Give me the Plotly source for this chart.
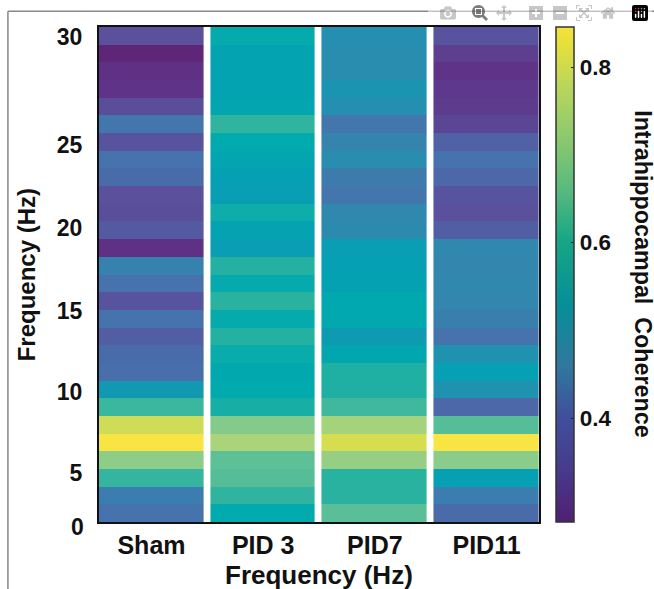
import plotly.graph_objects as go

groups = ["<b>Sham</b>", "<b>PID 3</b>", "<b>PID7</b>", "<b>PID11</b>"]

# coherence per frequency bin, listed from the top row to the bottom row
sham = [.37, .285, .31, .315, .365, .43, .375, .42, .41, .37, .365, .385, .31, .455,
        .42, .375, .42, .39, .41, .415, .505, .62, .80, .845, .72, .615, .445, .42]
pid3 = [.565, .53, .53, .53, .54, .61, .56, .54, .52, .515, .575, .53, .515, .60,
        .565, .605, .565, .60, .57, .555, .56, .585, .705, .755, .655, .645, .61, .56]
pid7 = [.485, .48, .48, .495, .485, .43, .46, .48, .44, .43, .47, .475, .515, .52,
        .525, .55, .555, .51, .545, .595, .595, .625, .75, .81, .73, .605, .605, .65]
pid11 = [.375, .335, .315, .325, .33, .35, .395, .42, .405, .375, .37, .39, .47, .465,
         .47, .465, .45, .42, .49, .52, .49, .405, .645, .845, .715, .52, .445, .41]

rows = list(range(28, 0, -1))
z = [list(r) for r in zip(sham, pid3, pid7, pid11)]

ytick_rows = [3.27, 7.85, 12.43, 17.13, 21.82, 27.93]
ytick_text = ["<b>5</b>", "<b>10</b>", "<b>15</b>", "<b>20</b>", "<b>25</b>", "<b>30</b>"]
cbar_ticks = [0.4, 0.6, 0.8]
cbar_text = ["<b>0.4</b>", "<b>0.6</b>", "<b>0.8</b>"]

ZMIN, ZMAX = 0.2815, 0.8456


def stops(pairs):
    return [[(v - ZMIN) / (ZMAX - ZMIN), c] for v, c in pairs]


cell_scale = stops([
    (ZMIN, "#5f2475"), (.315, "#5e3388"), (.37, "#5a509c"), (.42, "#4672ad"),
    (.47, "#3188ae"), (.52, "#05a0b3"), (.56, "#00aaad"), (.60, "#25b1a2"),
    (.65, "#5abf98"), (.72, "#8ecd88"), (.755, "#a9d47a"), (.81, "#d6de50"),
    (ZMAX, "#f9e544"),
])
bar_scale = stops([
    (ZMIN, "#4f1f73"), (.34, "#483a8c"), (.40, "#3f4f9c"), (.46, "#2f789e"),
    (.53, "#068f98"), (.60, "#15a585"), (.66, "#58ba7e"), (.72, "#8cc96e"),
    (.78, "#bcd65a"), (.82, "#e0df40"), (ZMAX, "#f6e23a"),
])

FONT = "Liberation Sans"
INK = "#111111"

fig = go.Figure()
fig.add_trace(go.Heatmap(
    z=z, x=groups, y=rows, zmin=ZMIN, zmax=ZMAX, xgap=7.5, colorscale=bar_scale,
    colorbar=dict(
        x=1.0386, xanchor="left", xref="paper", xpad=0, ypad=0,
        y=0.5, yanchor="middle", len=1.0,
        thickness=18, thicknessmode="pixels", outlinecolor="#333333", outlinewidth=1.5,
        tickvals=cbar_ticks, ticktext=cbar_text, ticks="inside",
        ticklen=3, tickcolor="#222222", tickfont=dict(family=FONT, size=22.5, color=INK),
    ),
))
fig.add_trace(go.Heatmap(
    z=z, x=groups, y=rows, zmin=ZMIN, zmax=ZMAX, xgap=7.5, colorscale=cell_scale,
    showscale=False,
))


def label(text, x, y, size, angle=0, xanchor="center"):
    return dict(text=text, xref="paper", yref="paper", x=x, y=y, xanchor=xanchor, yanchor="middle",
                showarrow=False, textangle=angle, font=dict(family=FONT, size=size, color=INK))


fig.update_layout(
    width=654, height=589, margin=dict(l=99, r=115, t=27, b=67, autoexpand=False),
    paper_bgcolor="white", plot_bgcolor="white",
    font=dict(family=FONT, color=INK),
    xaxis=dict(
        range=[-0.47, 3.47], showline=True, linewidth=2, linecolor=INK, mirror=True, automargin=False,
        ticks="", showgrid=False, zeroline=False, tickfont=dict(family=FONT, size=25, color=INK),
    ),
    yaxis=dict(
        range=[0.5, 28.5], showline=True, linewidth=2, linecolor=INK, mirror=True, automargin=False,
        tickvals=ytick_rows, ticktext=ytick_text, ticks="", ticklabelstandoff=10,
        showgrid=False, zeroline=False, tickfont=dict(family=FONT, size=23, color=INK),
    ),
    annotations=[
        label("<b>0</b>", -0.03, -0.01, 23, xanchor="right"),
        label("<b>Frequency (Hz)</b>", 0.5, -0.107, 26),
        label("<b>Frequency (Hz)</b>", -0.164, 0.5, 24, angle=-90),
        label("<b>Intrahippocampal\u00a0\u00a0Coherence</b>", 1.236, 0.501, 23.3, angle=90),
    ],
    shapes=[dict(type="line", xref="paper", yref="paper", x0=-0.207, x1=1.3, y0=1.032, y1=1.032,
                 line=dict(color="#888888", width=1.5)),
            dict(type="line", xref="paper", yref="paper", x0=-0.207, x1=-0.207, y0=1.032, y1=-0.14,
                 line=dict(color="#888888", width=1.5))],
)

fig.write_html(
    "out.html",
    post_script="document.body.style.margin='0';document.documentElement.style.overflow='hidden';",
)
